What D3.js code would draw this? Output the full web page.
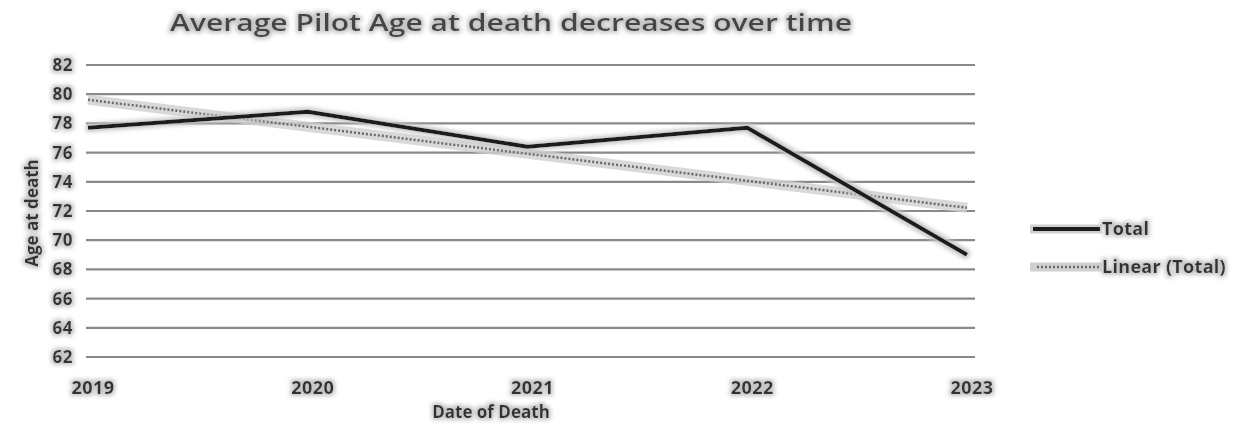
<!DOCTYPE html>
<html>
<head>
<meta charset="utf-8">
<script src="https://cdn.jsdelivr.net/npm/d3@7"></script>
<style>
  body { margin: 0; background: #fff; }
  text { font-family: "Open Sans", "Liberation Sans", sans-serif; fill: #333; }
</style>
</head>
<body>
<svg id="chart" width="1234" height="429"></svg>
<script>
// chart data
const years = ["2019", "2020", "2021", "2022", "2023"];
const totals = [77.7, 78.8, 76.4, 77.7, 69.0];
const yTicks = [62, 64, 66, 68, 70, 72, 74, 76, 78, 80, 82];
const legendLabels = ["Total", "Linear (Total)"];

const svg = d3.select("#chart");

// halo filter to get the fuzzy grey look of the scan
const defs = svg.append("defs");
const halo = defs.append("filter").attr("id", "halo")
  .attr("x", "-20%").attr("y", "-50%").attr("width", "140%").attr("height", "200%");
halo.append("feMorphology").attr("in", "SourceAlpha").attr("operator", "dilate").attr("radius", 2).attr("result", "d");
halo.append("feGaussianBlur").attr("in", "d").attr("stdDeviation", 2).attr("result", "b");
halo.append("feFlood").attr("flood-color", "#c4c4c4").attr("result", "c");
halo.append("feComposite").attr("in", "c").attr("in2", "b").attr("operator", "in").attr("result", "s");
const mg = halo.append("feMerge");
mg.append("feMergeNode").attr("in", "s");
mg.append("feMergeNode").attr("in", "SourceGraphic");

const x = d3.scalePoint().domain(years).range([88, 967]);
const y = d3.scaleLinear().domain([62, 82]).range([357, 65]);

// gridlines
svg.append("g")
  .selectAll("line")
  .data(yTicks)
  .join("line")
  .attr("x1", 86).attr("x2", 975)
  .attr("y1", d => y(d)).attr("y2", d => y(d))
  .attr("stroke", "#8a8a8a")
  .attr("stroke-width", 2.2);

// y axis labels
svg.append("g")
  .attr("filter", "url(#halo)")
  .selectAll("text")
  .data(yTicks)
  .join("text")
  .attr("x", 73).attr("y", d => y(d) + 6)
  .attr("text-anchor", "end")
  .attr("font-size", 17).attr("font-weight", 700)
  .attr("letter-spacing", 0.5)
  .text(d => d);

// x axis labels
svg.append("g")
  .attr("filter", "url(#halo)")
  .selectAll("text")
  .data(years)
  .join("text")
  .attr("x", d => x(d) + 5).attr("y", 394)
  .attr("text-anchor", "middle")
  .attr("font-size", 18).attr("font-weight", 700)
  .attr("letter-spacing", 0.5)
  .text(d => d);

// least-squares trend ("Linear (Total)")
const n = totals.length;
const xs = d3.range(n);
const mx = d3.mean(xs), my = d3.mean(totals);
const slope = d3.sum(xs, i => (i - mx) * (totals[i] - my)) / d3.sum(xs, i => (i - mx) ** 2);
const trend = xs.map(i => my + slope * (i - mx));

const line = d3.line()
  .x((d, i) => x(years[i]))
  .y(d => y(d));

svg.append("path")
  .datum(trend)
  .attr("d", line)
  .attr("fill", "none")
  .attr("stroke", "#d0d0d0")
  .attr("stroke-width", 10)
  .attr("opacity", 0.8);

svg.append("path")
  .datum(trend)
  .attr("d", line)
  .attr("fill", "none")
  .attr("stroke", "#6a6a6a")
  .attr("stroke-width", 2.5)
  .attr("stroke-dasharray", "2,2");

svg.append("path")
  .datum(totals)
  .attr("d", line)
  .attr("fill", "none")
  .attr("stroke", "#1c1c1c")
  .attr("stroke-width", 4)
  .attr("stroke-linejoin", "round")
  .attr("filter", "url(#halo)");

// title
svg.append("text")
  .attr("x", 511).attr("y", 31)
  .attr("text-anchor", "middle")
  .attr("font-size", 23).attr("font-weight", 600)
  .attr("textLength", 682).attr("lengthAdjust", "spacingAndGlyphs")
  .attr("filter", "url(#halo)")
  .style("fill", "#444")
  .text("Average Pilot Age at death decreases over time");

// axis titles
svg.append("text")
  .attr("transform", "translate(38,213) rotate(-90)")
  .attr("text-anchor", "middle")
  .attr("font-size", 17).attr("font-weight", 700)
  .attr("filter", "url(#halo)")
  .text("Age at death");

svg.append("text")
  .attr("x", 491).attr("y", 418)
  .attr("text-anchor", "middle")
  .attr("font-size", 17).attr("font-weight", 700)
  .attr("filter", "url(#halo)")
  .text("Date of Death");

// legend (grey underlay instead of filter: filter on a flat line has an empty box)
const legend = svg.append("g");
const ly = [229, 267];
legend.selectAll("line.under")
  .data(ly)
  .join("line")
  .attr("class", "under")
  .attr("x1", 1030).attr("x2", 1102).attr("y1", d => d).attr("y2", d => d)
  .attr("stroke", "#d0d0d0").attr("stroke-width", 9);
legend.append("line")
  .attr("x1", 1033).attr("x2", 1100).attr("y1", ly[0]).attr("y2", ly[0])
  .attr("stroke", "#1c1c1c").attr("stroke-width", 4);
legend.append("line")
  .attr("x1", 1037).attr("x2", 1100).attr("y1", ly[1]).attr("y2", ly[1])
  .attr("stroke", "#6a6a6a").attr("stroke-width", 2.5).attr("stroke-dasharray", "2,2");
legend.selectAll("text")
  .data(legendLabels)
  .join("text")
  .attr("x", 1102).attr("y", (d, i) => ly[i] + 6)
  .attr("font-size", 18).attr("font-weight", 700)
  .attr("letter-spacing", 0.3)
  .attr("filter", "url(#halo)")
  .text(d => d);
</script>
</body>
</html>
